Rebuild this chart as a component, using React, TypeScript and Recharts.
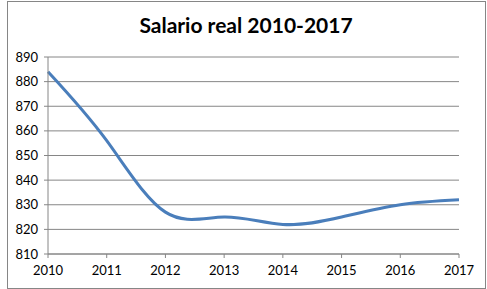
import React from 'react';
import { LineChart, Line, XAxis, YAxis, CartesianGrid } from 'recharts';

const years = ['2010', '2011', '2012', '2013', '2014', '2015', '2016', '2017'];
const salario = [884, 856, 827, 825, 822, 825, 830, 832];
const yTicks = [810, 820, 830, 840, 850, 860, 870, 880, 890];

const data = years.map((y, i) => ({ year: y, salario: salario[i] }));

const axisColor = '#868686';
const tickStyle = { fill: '#000', fontSize: 13, fontFamily: 'Lato, "Liberation Sans", sans-serif' };

const App: React.FC = () => {
  return (
    <div style={{ position: 'absolute', left: 0, top: 0, width: 487, height: 289, background: '#fff' }}>
      <div
        style={{
          position: 'absolute',
          left: 7,
          top: 1,
          width: 477,
          height: 286,
          border: '1px solid #868686',
        }}
      />
      <div
        style={{
          position: 'absolute',
          left: 0,
          top: 12,
          width: 492,
          textAlign: 'center',
          fontFamily: 'Lato, "Liberation Sans", sans-serif',
          fontWeight: 'bold',
          fontSize: 21,
          color: '#000',
        }}
      >
        Salario real 2010-2017
      </div>
      <div style={{ position: 'absolute', left: 0, top: 0 }}>
        <LineChart width={487} height={289} data={data} margin={{ top: 57, right: 28, left: 8, bottom: 0 }}>
          <CartesianGrid vertical={false} stroke={axisColor} strokeWidth={1} />
          <XAxis
            dataKey="year"
            height={35}
            stroke={axisColor}
            tick={tickStyle}
            tickSize={4}
            tickMargin={8}
            interval={0}
          />
          <YAxis
            width={40}
            domain={[810, 890]}
            ticks={yTicks}
            stroke={axisColor}
            tick={tickStyle}
            tickSize={4}
            tickMargin={6}
            interval={0}
          />
          <Line
            type="natural"
            dataKey="salario"
            stroke="#4A7EBB"
            strokeWidth={3}
            dot={false}
            isAnimationActive={false}
          />
        </LineChart>
      </div>
    </div>
  );
};

export default App;
